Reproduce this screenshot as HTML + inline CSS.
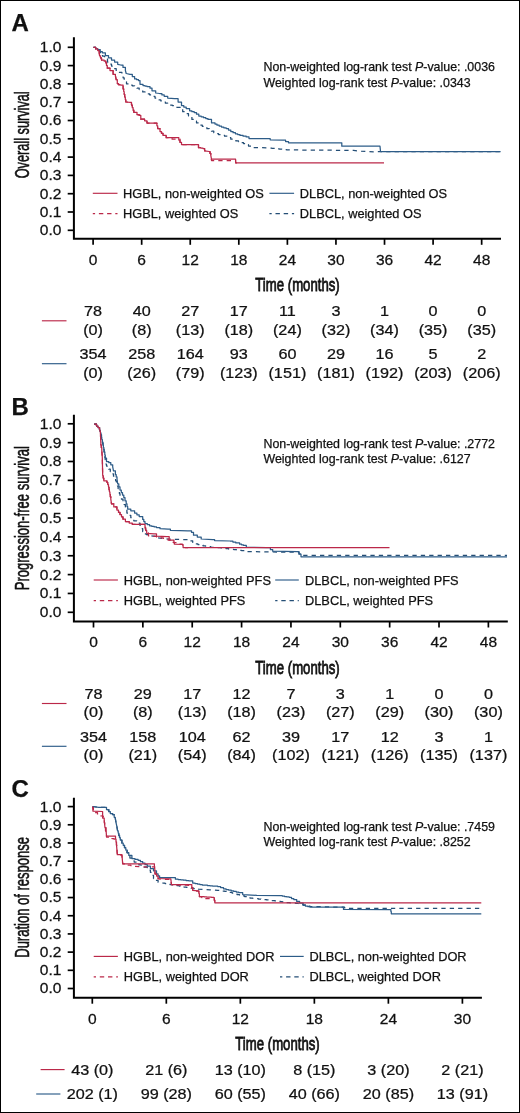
<!DOCTYPE html>
<html><head><meta charset="utf-8"><style>
html,body{margin:0;padding:0;background:#fff;}
svg{display:block;will-change:transform;}
text{font-family:"Liberation Sans",sans-serif;stroke:#111;stroke-width:0.25px;}
</style></head><body>
<svg width="520" height="1113" viewBox="0 0 520 1113">
<rect x="0" y="0" width="520" height="1113" fill="#fff"/>
<rect x="0.5" y="0.5" width="519" height="1112" fill="none" stroke="#000" stroke-width="1"/>
<path d="M73.9,37.2 V238.8 H501.0" fill="none" stroke="#000" stroke-width="2"/>
<line x1="67.7" y1="47.30" x2="73.9" y2="47.30" stroke="#000" stroke-width="1.7"/>
<text transform="translate(61.40,52.20) scale(1.050,1)" font-size="14.80" text-anchor="end" font-weight="normal" fill="#111" >1.0</text>
<line x1="67.7" y1="65.60" x2="73.9" y2="65.60" stroke="#000" stroke-width="1.7"/>
<text transform="translate(61.40,70.50) scale(1.050,1)" font-size="14.80" text-anchor="end" font-weight="normal" fill="#111" >0.9</text>
<line x1="67.7" y1="83.90" x2="73.9" y2="83.90" stroke="#000" stroke-width="1.7"/>
<text transform="translate(61.40,88.80) scale(1.050,1)" font-size="14.80" text-anchor="end" font-weight="normal" fill="#111" >0.8</text>
<line x1="67.7" y1="102.20" x2="73.9" y2="102.20" stroke="#000" stroke-width="1.7"/>
<text transform="translate(61.40,107.10) scale(1.050,1)" font-size="14.80" text-anchor="end" font-weight="normal" fill="#111" >0.7</text>
<line x1="67.7" y1="120.50" x2="73.9" y2="120.50" stroke="#000" stroke-width="1.7"/>
<text transform="translate(61.40,125.40) scale(1.050,1)" font-size="14.80" text-anchor="end" font-weight="normal" fill="#111" >0.6</text>
<line x1="67.7" y1="138.80" x2="73.9" y2="138.80" stroke="#000" stroke-width="1.7"/>
<text transform="translate(61.40,143.70) scale(1.050,1)" font-size="14.80" text-anchor="end" font-weight="normal" fill="#111" >0.5</text>
<line x1="67.7" y1="157.10" x2="73.9" y2="157.10" stroke="#000" stroke-width="1.7"/>
<text transform="translate(61.40,162.00) scale(1.050,1)" font-size="14.80" text-anchor="end" font-weight="normal" fill="#111" >0.4</text>
<line x1="67.7" y1="175.40" x2="73.9" y2="175.40" stroke="#000" stroke-width="1.7"/>
<text transform="translate(61.40,180.30) scale(1.050,1)" font-size="14.80" text-anchor="end" font-weight="normal" fill="#111" >0.3</text>
<line x1="67.7" y1="193.70" x2="73.9" y2="193.70" stroke="#000" stroke-width="1.7"/>
<text transform="translate(61.40,198.60) scale(1.050,1)" font-size="14.80" text-anchor="end" font-weight="normal" fill="#111" >0.2</text>
<line x1="67.7" y1="212.00" x2="73.9" y2="212.00" stroke="#000" stroke-width="1.7"/>
<text transform="translate(61.40,216.90) scale(1.050,1)" font-size="14.80" text-anchor="end" font-weight="normal" fill="#111" >0.1</text>
<line x1="67.7" y1="230.30" x2="73.9" y2="230.30" stroke="#000" stroke-width="1.7"/>
<text transform="translate(61.40,235.20) scale(1.050,1)" font-size="14.80" text-anchor="end" font-weight="normal" fill="#111" >0.0</text>
<line x1="93.10" y1="238.8" x2="93.10" y2="244.8" stroke="#000" stroke-width="1.7"/>
<text transform="translate(93.10,265.00) scale(1.050,1)" font-size="14.80" text-anchor="middle" font-weight="normal" fill="#111" >0</text>
<line x1="141.67" y1="238.8" x2="141.67" y2="244.8" stroke="#000" stroke-width="1.7"/>
<text transform="translate(141.67,265.00) scale(1.050,1)" font-size="14.80" text-anchor="middle" font-weight="normal" fill="#111" >6</text>
<line x1="190.24" y1="238.8" x2="190.24" y2="244.8" stroke="#000" stroke-width="1.7"/>
<text transform="translate(190.24,265.00) scale(1.050,1)" font-size="14.80" text-anchor="middle" font-weight="normal" fill="#111" >12</text>
<line x1="238.81" y1="238.8" x2="238.81" y2="244.8" stroke="#000" stroke-width="1.7"/>
<text transform="translate(238.81,265.00) scale(1.050,1)" font-size="14.80" text-anchor="middle" font-weight="normal" fill="#111" >18</text>
<line x1="287.38" y1="238.8" x2="287.38" y2="244.8" stroke="#000" stroke-width="1.7"/>
<text transform="translate(287.38,265.00) scale(1.050,1)" font-size="14.80" text-anchor="middle" font-weight="normal" fill="#111" >24</text>
<line x1="335.95" y1="238.8" x2="335.95" y2="244.8" stroke="#000" stroke-width="1.7"/>
<text transform="translate(335.95,265.00) scale(1.050,1)" font-size="14.80" text-anchor="middle" font-weight="normal" fill="#111" >30</text>
<line x1="384.52" y1="238.8" x2="384.52" y2="244.8" stroke="#000" stroke-width="1.7"/>
<text transform="translate(384.52,265.00) scale(1.050,1)" font-size="14.80" text-anchor="middle" font-weight="normal" fill="#111" >36</text>
<line x1="433.09" y1="238.8" x2="433.09" y2="244.8" stroke="#000" stroke-width="1.7"/>
<text transform="translate(433.09,265.00) scale(1.050,1)" font-size="14.80" text-anchor="middle" font-weight="normal" fill="#111" >42</text>
<line x1="481.66" y1="238.8" x2="481.66" y2="244.8" stroke="#000" stroke-width="1.7"/>
<text transform="translate(481.66,265.00) scale(1.050,1)" font-size="14.80" text-anchor="middle" font-weight="normal" fill="#111" >48</text>
<text x="11.50" y="30.70" font-size="24.00" text-anchor="start" font-weight="bold" fill="#111" >A</text>
<text transform="translate(28.50,134.80) rotate(-90) scale(0.640,1)" font-size="19.90" text-anchor="middle" fill="#111" style="stroke:#111;stroke-width:0.55px" >Overall survival</text>
<text transform="translate(255.30,291.00) scale(0.725,1)" font-size="18.20" text-anchor="start" font-weight="normal" fill="#111" style="stroke-width:0.8px">Time (months)</text>
<text x="263.50" y="71.20" font-size="12.40" text-anchor="start" font-weight="normal" fill="#111" >Non-weighted log-rank test <tspan font-style="italic">P</tspan>-value: .0036</text>
<text x="263.50" y="86.60" font-size="12.40" text-anchor="start" font-weight="normal" fill="#111" >Weighted log-rank test <tspan font-style="italic">P</tspan>-value: .0343</text>
<line x1="92.8" y1="193.3" x2="117.5" y2="193.3" stroke="#bb2849" stroke-width="1.15"/>
<line x1="92.8" y1="213.7" x2="117.5" y2="213.7" stroke="#bb2849" stroke-width="1.25" stroke-dasharray="4.4,3.8" stroke-dashoffset="2.1"/>
<line x1="269.4" y1="193.3" x2="294.1" y2="193.3" stroke="#2d5c88" stroke-width="1.15"/>
<line x1="269.4" y1="213.7" x2="294.1" y2="213.7" stroke="#244e76" stroke-width="1.25" stroke-dasharray="4.4,3.8" stroke-dashoffset="2.1"/>
<text x="123.00" y="198.20" font-size="12.80" text-anchor="start" font-weight="normal" fill="#111" >HGBL, non-weighted OS</text>
<text x="123.00" y="218.40" font-size="12.80" text-anchor="start" font-weight="normal" fill="#111" >HGBL, weighted OS</text>
<text x="299.80" y="198.20" font-size="12.80" text-anchor="start" font-weight="normal" fill="#111" >DLBCL, non-weighted OS</text>
<text x="299.80" y="218.40" font-size="12.80" text-anchor="start" font-weight="normal" fill="#111" >DLBCL, weighted OS</text>
<path d="M93.5,47.3 L95.6,47.3 L95.6,48.5 L97.7,48.5 L97.7,49.7 L100.0,49.7 L100.0,52.5 L102.5,52.5 L102.5,56.0 L104.6,56.0 L104.6,58.5 L107.5,58.5 L107.5,62.0 L109.5,62.0 L109.5,64.0 L111.5,64.0 L111.5,66.0 L113.8,66.0 L113.8,68.6 L116.2,68.6 L116.2,71.2 L118.5,71.2 L118.5,72.3 L121.9,72.3 L121.9,75.8 L123.1,75.8 L123.1,77.8 L124.2,77.8 L124.2,79.8 L125.3,79.8 L125.3,81.8 L126.5,81.8 L126.5,83.8 L130.0,83.8 L130.0,85.2 L132.3,85.2 L132.3,85.8 L134.6,85.8 L134.6,86.4 L136.9,86.4 L136.9,88.0 L139.2,88.0 L139.2,89.6 L142.7,89.6 L142.7,91.9 L145.0,91.9 L145.0,92.9 L147.3,92.9 L147.3,93.8 L149.6,93.8 L149.6,94.8 L152.3,94.8 L152.3,96.4 L155.0,96.4 L155.0,98.1 L158.5,98.1 L158.5,99.8 L160.8,99.8 L160.8,100.9 L163.1,100.9 L163.1,102.1 L165.4,102.1 L165.4,103.2 L167.7,103.2 L167.7,104.4 L170.0,104.4 L170.0,105.0 L172.3,105.0 L172.3,105.6 L174.6,105.6 L174.6,106.4 L176.9,106.4 L176.9,107.3 L180.4,107.3 L180.4,109.6 L182.7,109.6 L182.7,111.7 L185.0,111.7 L185.0,113.7 L188.5,113.7 L188.5,116.0 L191.9,116.0 L191.9,119.4 L194.2,119.4 L194.2,121.2 L196.5,121.2 L196.5,122.9 L200.0,122.9 L200.0,125.2 L202.3,125.2 L202.3,126.3 L204.6,126.3 L204.6,127.5 L206.9,127.5 L206.9,128.7 L209.2,128.7 L209.2,129.8 L211.5,129.8 L211.5,131.2 L213.8,131.2 L213.8,132.7 L216.2,132.7 L216.2,133.6 L218.5,133.6 L218.5,134.6 L221.6,134.6 L221.6,135.4 L224.6,135.4 L224.6,136.2 L227.7,136.2 L227.7,137.7 L230.8,137.7 L230.8,139.2 L233.4,139.2 L233.4,140.0 L235.9,140.0 L235.9,140.9 L238.5,140.9 L238.5,141.7 L241.0,141.7 L241.0,142.7 L243.5,142.7 L243.5,143.6 L246.0,143.6 L246.0,144.6 L248.5,144.6 L248.5,146.1 L251.0,146.1 L251.0,147.5 L257.7,147.5 L269.2,148.0 L271.8,148.0 L271.8,148.3 L274.4,148.3 L274.4,148.5 L277.0,148.5 L277.0,148.8 L279.4,148.8 L279.4,149.1 L281.8,149.1 L281.8,149.3 L284.1,149.3 L284.1,149.6 L286.5,149.6 L286.5,149.8 L300.0,150.0 L353.5,150.4 L359.8,151.2 L374.6,151.8 L380.5,151.6 L500.6,151.6" fill="none" stroke="#244e76" stroke-width="1.25" stroke-linejoin="round" stroke-dasharray="4.3,4.1"/>
<path d="M93.5,47.3 L95.6,47.3 L95.6,48.9 L97.7,48.9 L97.7,50.5 L99.2,50.5 L99.2,52.8 L99.6,55.8 L100.5,55.8 L100.5,57.9 L101.5,57.9 L101.5,60.0 L104.2,60.0 L104.2,61.2 L105.8,61.2 L105.8,62.8 L106.5,62.8 L106.5,65.5 L107.3,65.5 L107.3,68.2 L110.0,68.2 L110.0,70.5 L113.1,70.5 L113.1,74.3 L115.4,74.3 L115.4,75.8 L116.2,79.7 L117.3,79.7 L117.3,83.5 L118.5,83.5 L118.5,84.7 L121.5,84.7 L121.5,85.8 L123.1,85.8 L123.1,88.9 L123.7,88.9 L123.7,91.6 L124.2,91.6 L124.2,94.3 L124.7,94.3 L124.7,96.9 L125.3,96.9 L125.3,99.4 L125.8,99.4 L125.8,102.0 L130.4,102.4 L131.5,102.4 L131.5,105.0 L132.3,105.0 L132.3,107.7 L133.1,107.7 L133.1,110.0 L133.8,110.0 L133.8,112.3 L137.0,112.3 L137.0,114.6 L139.2,114.6 L139.2,115.4 L140.8,115.4 L140.8,119.2 L144.6,119.2 L144.6,120.8 L147.0,120.8 L147.0,123.0 L156.2,123.0 L156.9,123.0 L156.9,125.8 L157.7,125.8 L157.7,128.5 L160.0,128.5 L160.0,131.5 L161.5,131.5 L161.5,133.4 L163.0,133.4 L163.0,135.4 L166.2,135.4 L166.2,137.7 L169.1,137.7 L169.1,138.3 L172.0,138.3 L172.0,139.0 L177.7,139.0 L180.0,139.0 L180.0,142.3 L181.5,142.3 L181.5,144.6 L197.0,144.6 L198.5,144.6 L198.5,147.7 L200.8,147.7 L200.8,148.1 L203.0,148.1 L203.0,148.5 L204.6,148.5 L204.6,150.8 L209.2,151.5 L210.0,151.5 L210.0,153.4 L210.8,153.4 L210.8,155.4 L211.5,160.5 L234.6,160.5 L235.6,160.5 L235.6,162.8 L238.0,162.8" fill="none" stroke="#bb2849" stroke-width="1.25" stroke-linejoin="round" stroke-dasharray="4.3,4.1"/>
<path d="M93.5,47.3 L95.6,47.3 L95.6,48.5 L97.7,48.5 L97.7,49.7 L100.0,49.7 L100.0,51.6 L102.3,51.6 L102.3,52.8 L105.4,52.8 L105.4,55.5 L108.5,55.5 L108.5,57.8 L111.5,57.8 L111.5,60.0 L114.6,60.0 L114.6,62.0 L117.7,62.0 L117.7,64.3 L120.8,65.0 L123.0,65.0 L123.0,67.4 L125.4,67.4 L125.4,70.5 L126.2,73.5 L130.0,74.3 L132.3,74.3 L132.3,76.6 L134.6,76.6 L134.6,78.9 L136.6,78.9 L136.6,79.7 L138.5,79.7 L138.5,80.5 L140.0,80.5 L140.0,84.3 L143.0,84.3 L143.0,85.5 L145.0,85.5 L145.0,86.0 L147.0,86.0 L147.0,86.6 L150.0,86.6 L150.0,88.2 L152.0,88.2 L152.0,90.8 L155.7,90.8 L155.7,93.0 L159.6,93.5 L161.9,93.5 L161.9,94.9 L164.2,94.9 L164.2,96.3 L167.7,96.3 L167.7,98.1 L174.6,98.7 L178.1,98.7 L178.1,102.1 L181.5,102.1 L181.5,105.6 L183.8,105.6 L183.8,107.0 L186.2,107.0 L186.2,108.5 L189.6,108.5 L189.6,110.8 L191.9,110.8 L191.9,111.7 L194.2,111.7 L194.2,112.5 L196.5,112.5 L196.5,114.2 L198.8,114.2 L198.8,116.0 L201.2,116.0 L201.2,116.8 L203.5,116.8 L203.5,117.7 L205.8,117.7 L205.8,118.6 L208.0,118.6 L208.0,119.4 L211.5,119.4 L211.5,122.9 L215.0,122.9 L215.0,124.0 L217.0,124.0 L217.0,125.2 L219.2,125.2 L219.2,126.1 L221.5,126.1 L221.5,127.0 L223.8,127.0 L223.8,127.8 L226.2,127.8 L226.2,128.5 L228.5,128.5 L228.5,130.0 L230.8,130.0 L230.8,131.5 L233.1,131.5 L233.1,132.7 L235.4,132.7 L235.4,133.8 L237.7,133.8 L237.7,134.6 L240.0,134.6 L240.0,135.4 L243.1,135.4 L243.1,136.2 L246.2,136.2 L246.2,136.9 L249.0,136.9 L249.0,138.5 L267.3,138.5 L270.2,138.5 L270.2,139.8 L282.7,140.2 L285.6,140.2 L285.6,141.5 L288.5,141.5 L288.5,142.8 L340.8,142.8 L341.8,142.8 L341.8,146.2 L380.0,146.2 L380.5,151.5 L500.6,151.5" fill="none" stroke="#2d5c88" stroke-width="1.25" stroke-linejoin="round" />
<path d="M93.5,47.3 L95.6,47.3 L95.6,48.9 L97.7,48.9 L97.7,50.5 L99.2,50.5 L99.2,52.8 L99.6,55.8 L100.5,55.8 L100.5,57.9 L101.5,57.9 L101.5,60.0 L104.2,60.0 L104.2,61.2 L105.8,61.2 L105.8,62.8 L106.5,62.8 L106.5,65.5 L107.3,65.5 L107.3,68.2 L110.0,68.2 L110.0,70.5 L113.1,70.5 L113.1,74.3 L115.4,74.3 L115.4,75.8 L116.2,79.7 L117.3,79.7 L117.3,83.5 L118.5,83.5 L118.5,84.7 L121.5,85.1 L123.1,85.1 L123.1,88.9 L123.7,88.9 L123.7,91.6 L124.2,91.6 L124.2,94.3 L124.7,94.3 L124.7,96.9 L125.3,96.9 L125.3,99.4 L125.8,99.4 L125.8,102.0 L130.4,102.4 L131.5,102.4 L131.5,105.0 L132.3,105.0 L132.3,107.7 L133.1,107.7 L133.1,110.0 L133.8,110.0 L133.8,112.3 L137.0,112.3 L137.0,114.6 L139.2,114.6 L139.2,115.4 L140.8,115.4 L140.8,119.2 L144.6,119.2 L144.6,120.8 L147.0,120.8 L147.0,123.0 L156.2,123.0 L156.9,123.0 L156.9,125.8 L157.7,125.8 L157.7,128.5 L160.0,128.5 L160.0,131.5 L161.5,131.5 L161.5,133.4 L163.0,133.4 L163.0,135.4 L166.2,135.4 L166.2,137.7 L177.7,137.7 L178.8,137.7 L178.8,140.0 L180.0,140.0 L180.0,142.3 L181.5,142.3 L181.5,144.6 L197.0,144.6 L198.5,144.6 L198.5,147.7 L200.8,147.7 L200.8,148.1 L203.0,148.1 L203.0,148.5 L204.6,148.5 L204.6,150.8 L209.2,151.5 L210.0,151.5 L210.0,153.4 L210.8,153.4 L210.8,155.4 L211.5,159.2 L234.6,159.2 L235.6,159.2 L235.6,162.8 L384.0,162.8" fill="none" stroke="#bb2849" stroke-width="1.25" stroke-linejoin="round" />
<line x1="41.9" y1="320.8" x2="66.5" y2="320.8" stroke="#bb2849" stroke-width="1.15"/>
<line x1="41.9" y1="363.7" x2="66.5" y2="363.7" stroke="#2d5c88" stroke-width="1.15"/>
<text transform="translate(93.10,315.90) scale(1.110,1)" font-size="14.60" text-anchor="middle" font-weight="normal" fill="#111" >78</text>
<text transform="translate(141.67,315.90) scale(1.110,1)" font-size="14.60" text-anchor="middle" font-weight="normal" fill="#111" >40</text>
<text transform="translate(190.24,315.90) scale(1.110,1)" font-size="14.60" text-anchor="middle" font-weight="normal" fill="#111" >27</text>
<text transform="translate(238.81,315.90) scale(1.110,1)" font-size="14.60" text-anchor="middle" font-weight="normal" fill="#111" >17</text>
<text transform="translate(287.38,315.90) scale(1.110,1)" font-size="14.60" text-anchor="middle" font-weight="normal" fill="#111" >11</text>
<text transform="translate(335.95,315.90) scale(1.110,1)" font-size="14.60" text-anchor="middle" font-weight="normal" fill="#111" >3</text>
<text transform="translate(384.52,315.90) scale(1.110,1)" font-size="14.60" text-anchor="middle" font-weight="normal" fill="#111" >1</text>
<text transform="translate(433.09,315.90) scale(1.110,1)" font-size="14.60" text-anchor="middle" font-weight="normal" fill="#111" >0</text>
<text transform="translate(481.66,315.90) scale(1.110,1)" font-size="14.60" text-anchor="middle" font-weight="normal" fill="#111" >0</text>
<text transform="translate(93.10,334.60) scale(1.110,1)" font-size="14.60" text-anchor="middle" font-weight="normal" fill="#111" >(0)</text>
<text transform="translate(141.67,334.60) scale(1.110,1)" font-size="14.60" text-anchor="middle" font-weight="normal" fill="#111" >(8)</text>
<text transform="translate(190.24,334.60) scale(1.110,1)" font-size="14.60" text-anchor="middle" font-weight="normal" fill="#111" >(13)</text>
<text transform="translate(238.81,334.60) scale(1.110,1)" font-size="14.60" text-anchor="middle" font-weight="normal" fill="#111" >(18)</text>
<text transform="translate(287.38,334.60) scale(1.110,1)" font-size="14.60" text-anchor="middle" font-weight="normal" fill="#111" >(24)</text>
<text transform="translate(335.95,334.60) scale(1.110,1)" font-size="14.60" text-anchor="middle" font-weight="normal" fill="#111" >(32)</text>
<text transform="translate(384.52,334.60) scale(1.110,1)" font-size="14.60" text-anchor="middle" font-weight="normal" fill="#111" >(34)</text>
<text transform="translate(433.09,334.60) scale(1.110,1)" font-size="14.60" text-anchor="middle" font-weight="normal" fill="#111" >(35)</text>
<text transform="translate(481.66,334.60) scale(1.110,1)" font-size="14.60" text-anchor="middle" font-weight="normal" fill="#111" >(35)</text>
<text transform="translate(93.10,358.80) scale(1.110,1)" font-size="14.60" text-anchor="middle" font-weight="normal" fill="#111" >354</text>
<text transform="translate(141.67,358.80) scale(1.110,1)" font-size="14.60" text-anchor="middle" font-weight="normal" fill="#111" >258</text>
<text transform="translate(190.24,358.80) scale(1.110,1)" font-size="14.60" text-anchor="middle" font-weight="normal" fill="#111" >164</text>
<text transform="translate(238.81,358.80) scale(1.110,1)" font-size="14.60" text-anchor="middle" font-weight="normal" fill="#111" >93</text>
<text transform="translate(287.38,358.80) scale(1.110,1)" font-size="14.60" text-anchor="middle" font-weight="normal" fill="#111" >60</text>
<text transform="translate(335.95,358.80) scale(1.110,1)" font-size="14.60" text-anchor="middle" font-weight="normal" fill="#111" >29</text>
<text transform="translate(384.52,358.80) scale(1.110,1)" font-size="14.60" text-anchor="middle" font-weight="normal" fill="#111" >16</text>
<text transform="translate(433.09,358.80) scale(1.110,1)" font-size="14.60" text-anchor="middle" font-weight="normal" fill="#111" >5</text>
<text transform="translate(481.66,358.80) scale(1.110,1)" font-size="14.60" text-anchor="middle" font-weight="normal" fill="#111" >2</text>
<text transform="translate(93.10,377.70) scale(1.110,1)" font-size="14.60" text-anchor="middle" font-weight="normal" fill="#111" >(0)</text>
<text transform="translate(141.67,377.70) scale(1.110,1)" font-size="14.60" text-anchor="middle" font-weight="normal" fill="#111" >(26)</text>
<text transform="translate(190.24,377.70) scale(1.110,1)" font-size="14.60" text-anchor="middle" font-weight="normal" fill="#111" >(79)</text>
<text transform="translate(238.81,377.70) scale(1.110,1)" font-size="14.60" text-anchor="middle" font-weight="normal" fill="#111" >(123)</text>
<text transform="translate(287.38,377.70) scale(1.110,1)" font-size="14.60" text-anchor="middle" font-weight="normal" fill="#111" >(151)</text>
<text transform="translate(335.95,377.70) scale(1.110,1)" font-size="14.60" text-anchor="middle" font-weight="normal" fill="#111" >(181)</text>
<text transform="translate(384.52,377.70) scale(1.110,1)" font-size="14.60" text-anchor="middle" font-weight="normal" fill="#111" >(192)</text>
<text transform="translate(433.09,377.70) scale(1.110,1)" font-size="14.60" text-anchor="middle" font-weight="normal" fill="#111" >(203)</text>
<text transform="translate(481.66,377.70) scale(1.110,1)" font-size="14.60" text-anchor="middle" font-weight="normal" fill="#111" >(206)</text>
<path d="M73.9,414.8 V621.5 H507.8" fill="none" stroke="#000" stroke-width="2"/>
<line x1="67.7" y1="423.80" x2="73.9" y2="423.80" stroke="#000" stroke-width="1.7"/>
<text transform="translate(61.40,428.70) scale(1.050,1)" font-size="14.80" text-anchor="end" font-weight="normal" fill="#111" >1.0</text>
<line x1="67.7" y1="442.65" x2="73.9" y2="442.65" stroke="#000" stroke-width="1.7"/>
<text transform="translate(61.40,447.55) scale(1.050,1)" font-size="14.80" text-anchor="end" font-weight="normal" fill="#111" >0.9</text>
<line x1="67.7" y1="461.50" x2="73.9" y2="461.50" stroke="#000" stroke-width="1.7"/>
<text transform="translate(61.40,466.40) scale(1.050,1)" font-size="14.80" text-anchor="end" font-weight="normal" fill="#111" >0.8</text>
<line x1="67.7" y1="480.35" x2="73.9" y2="480.35" stroke="#000" stroke-width="1.7"/>
<text transform="translate(61.40,485.25) scale(1.050,1)" font-size="14.80" text-anchor="end" font-weight="normal" fill="#111" >0.7</text>
<line x1="67.7" y1="499.20" x2="73.9" y2="499.20" stroke="#000" stroke-width="1.7"/>
<text transform="translate(61.40,504.10) scale(1.050,1)" font-size="14.80" text-anchor="end" font-weight="normal" fill="#111" >0.6</text>
<line x1="67.7" y1="518.05" x2="73.9" y2="518.05" stroke="#000" stroke-width="1.7"/>
<text transform="translate(61.40,522.95) scale(1.050,1)" font-size="14.80" text-anchor="end" font-weight="normal" fill="#111" >0.5</text>
<line x1="67.7" y1="536.90" x2="73.9" y2="536.90" stroke="#000" stroke-width="1.7"/>
<text transform="translate(61.40,541.80) scale(1.050,1)" font-size="14.80" text-anchor="end" font-weight="normal" fill="#111" >0.4</text>
<line x1="67.7" y1="555.75" x2="73.9" y2="555.75" stroke="#000" stroke-width="1.7"/>
<text transform="translate(61.40,560.65) scale(1.050,1)" font-size="14.80" text-anchor="end" font-weight="normal" fill="#111" >0.3</text>
<line x1="67.7" y1="574.60" x2="73.9" y2="574.60" stroke="#000" stroke-width="1.7"/>
<text transform="translate(61.40,579.50) scale(1.050,1)" font-size="14.80" text-anchor="end" font-weight="normal" fill="#111" >0.2</text>
<line x1="67.7" y1="593.45" x2="73.9" y2="593.45" stroke="#000" stroke-width="1.7"/>
<text transform="translate(61.40,598.35) scale(1.050,1)" font-size="14.80" text-anchor="end" font-weight="normal" fill="#111" >0.1</text>
<line x1="67.7" y1="612.30" x2="73.9" y2="612.30" stroke="#000" stroke-width="1.7"/>
<text transform="translate(61.40,617.20) scale(1.050,1)" font-size="14.80" text-anchor="end" font-weight="normal" fill="#111" >0.0</text>
<line x1="93.50" y1="621.5" x2="93.50" y2="627.5" stroke="#000" stroke-width="1.7"/>
<text transform="translate(93.50,647.10) scale(1.050,1)" font-size="14.80" text-anchor="middle" font-weight="normal" fill="#111" >0</text>
<line x1="142.86" y1="621.5" x2="142.86" y2="627.5" stroke="#000" stroke-width="1.7"/>
<text transform="translate(142.86,647.10) scale(1.050,1)" font-size="14.80" text-anchor="middle" font-weight="normal" fill="#111" >6</text>
<line x1="192.22" y1="621.5" x2="192.22" y2="627.5" stroke="#000" stroke-width="1.7"/>
<text transform="translate(192.22,647.10) scale(1.050,1)" font-size="14.80" text-anchor="middle" font-weight="normal" fill="#111" >12</text>
<line x1="241.58" y1="621.5" x2="241.58" y2="627.5" stroke="#000" stroke-width="1.7"/>
<text transform="translate(241.58,647.10) scale(1.050,1)" font-size="14.80" text-anchor="middle" font-weight="normal" fill="#111" >18</text>
<line x1="290.94" y1="621.5" x2="290.94" y2="627.5" stroke="#000" stroke-width="1.7"/>
<text transform="translate(290.94,647.10) scale(1.050,1)" font-size="14.80" text-anchor="middle" font-weight="normal" fill="#111" >24</text>
<line x1="340.30" y1="621.5" x2="340.30" y2="627.5" stroke="#000" stroke-width="1.7"/>
<text transform="translate(340.30,647.10) scale(1.050,1)" font-size="14.80" text-anchor="middle" font-weight="normal" fill="#111" >30</text>
<line x1="389.66" y1="621.5" x2="389.66" y2="627.5" stroke="#000" stroke-width="1.7"/>
<text transform="translate(389.66,647.10) scale(1.050,1)" font-size="14.80" text-anchor="middle" font-weight="normal" fill="#111" >36</text>
<line x1="439.02" y1="621.5" x2="439.02" y2="627.5" stroke="#000" stroke-width="1.7"/>
<text transform="translate(439.02,647.10) scale(1.050,1)" font-size="14.80" text-anchor="middle" font-weight="normal" fill="#111" >42</text>
<line x1="488.38" y1="621.5" x2="488.38" y2="627.5" stroke="#000" stroke-width="1.7"/>
<text transform="translate(488.38,647.10) scale(1.050,1)" font-size="14.80" text-anchor="middle" font-weight="normal" fill="#111" >48</text>
<text x="11.50" y="414.60" font-size="24.00" text-anchor="start" font-weight="bold" fill="#111" >B</text>
<text transform="translate(28.50,518.20) rotate(-90) scale(0.655,1)" font-size="19.90" text-anchor="middle" fill="#111" style="stroke:#111;stroke-width:0.55px" >Progression-free survival</text>
<text transform="translate(255.30,673.80) scale(0.725,1)" font-size="18.20" text-anchor="start" font-weight="normal" fill="#111" style="stroke-width:0.8px">Time (months)</text>
<text x="263.50" y="448.20" font-size="12.40" text-anchor="start" font-weight="normal" fill="#111" >Non-weighted log-rank test <tspan font-style="italic">P</tspan>-value: .2772</text>
<text x="263.50" y="463.40" font-size="12.40" text-anchor="start" font-weight="normal" fill="#111" >Weighted log-rank test <tspan font-style="italic">P</tspan>-value: .6127</text>
<line x1="93.7" y1="580.0" x2="117.9" y2="580.0" stroke="#bb2849" stroke-width="1.15"/>
<line x1="93.7" y1="600.5" x2="117.9" y2="600.5" stroke="#bb2849" stroke-width="1.25" stroke-dasharray="4.4,3.8" stroke-dashoffset="2.1"/>
<line x1="275.2" y1="580.0" x2="298.8" y2="580.0" stroke="#2d5c88" stroke-width="1.15"/>
<line x1="275.2" y1="600.5" x2="298.8" y2="600.5" stroke="#244e76" stroke-width="1.25" stroke-dasharray="4.4,3.8" stroke-dashoffset="2.1"/>
<text x="123.70" y="585.20" font-size="12.80" text-anchor="start" font-weight="normal" fill="#111" >HGBL, non-weighted PFS</text>
<text x="123.70" y="605.40" font-size="12.80" text-anchor="start" font-weight="normal" fill="#111" >HGBL, weighted PFS</text>
<text x="305.00" y="585.20" font-size="12.80" text-anchor="start" font-weight="normal" fill="#111" >DLBCL, non-weighted PFS</text>
<text x="305.00" y="605.40" font-size="12.80" text-anchor="start" font-weight="normal" fill="#111" >DLBCL, weighted PFS</text>
<path d="M94.2,424.2 L96.5,424.2 L96.5,426.0 L98.0,426.0 L98.0,427.6 L99.5,427.6 L99.5,429.5 L100.3,431.5 L100.9,431.5 L100.9,434.8 L101.5,434.8 L101.5,438.0 L102.0,438.0 L102.0,440.7 L102.5,440.7 L102.5,443.3 L103.0,443.3 L103.0,446.0 L103.5,446.0 L103.5,449.0 L104.0,449.0 L104.0,452.0 L104.5,452.0 L104.5,455.0 L104.8,455.0 L104.8,457.3 L105.2,457.3 L105.2,459.7 L105.5,459.7 L105.5,462.0 L106.0,462.0 L106.0,464.0 L106.5,464.0 L106.5,466.0 L108.8,466.0 L108.8,469.2 L110.3,469.2 L110.3,471.5 L111.9,471.5 L111.9,473.8 L113.5,473.8 L113.5,476.2 L114.5,476.2 L114.5,478.5 L115.6,478.5 L115.6,480.8 L116.5,480.8 L116.5,483.4 L117.5,483.4 L117.5,486.0 L118.1,486.0 L118.1,488.6 L118.8,488.6 L118.8,491.1 L119.4,491.1 L119.4,493.6 L120.0,493.6 L120.0,496.2 L121.5,496.2 L121.5,499.2 L123.0,499.2 L123.0,502.3 L124.2,502.3 L124.2,504.6 L125.4,504.6 L125.4,507.0 L126.2,507.0 L126.2,510.0 L126.9,510.0 L126.9,513.0 L128.9,513.0 L128.9,515.4 L130.8,515.4 L130.8,517.7 L133.8,517.7 L133.8,520.8 L136.9,520.8 L136.9,523.1 L140.0,523.1 L140.0,525.4 L141.3,525.4 L141.3,528.5 L142.7,528.5 L142.7,531.5 L144.4,531.5 L144.4,533.8 L146.4,533.8 L146.4,534.7 L148.5,534.7 L148.5,535.6 L153.0,536.2 L155.3,536.2 L155.3,537.0 L157.7,537.0 L157.7,537.9 L162.3,538.5 L166.9,539.0 L173.8,539.4 L185.4,539.6 L187.7,539.6 L187.7,540.2 L190.0,540.2 L190.0,540.8 L192.7,540.8 L192.7,542.3 L195.4,542.3 L195.4,543.8 L197.9,543.8 L197.9,544.5 L200.5,544.5 L200.5,545.1 L203.0,545.1 L203.0,545.8 L205.6,545.8 L205.6,546.2 L208.2,546.2 L208.2,546.7 L210.8,546.7 L210.8,547.1 L218.5,547.7 L221.1,547.7 L221.1,548.0 L223.6,548.0 L223.6,548.4 L226.2,548.4 L226.2,548.7 L228.7,548.7 L228.7,549.0 L231.3,549.0 L231.3,549.3 L233.8,549.3 L233.8,549.6 L236.4,549.6 L236.4,549.9 L238.9,549.9 L238.9,550.3 L241.5,550.3 L241.5,550.6 L244.4,550.6 L244.4,551.0 L247.3,551.0 L247.3,551.5 L266.5,551.9 L297.0,552.2 L299.0,552.2 L299.0,553.8 L301.0,553.8 L301.0,555.3 L507.0,555.3" fill="none" stroke="#244e76" stroke-width="1.25" stroke-linejoin="round" stroke-dasharray="4.3,4.1"/>
<path d="M94.2,424.2 L96.5,424.2 L96.5,426.0 L98.0,426.0 L98.0,427.6 L99.5,427.6 L99.5,429.5 L100.3,431.5 L100.6,437.2 L100.9,445.0 L101.3,445.0 L101.3,447.6 L101.8,447.6 L101.8,450.3 L102.3,457.7 L102.7,475.4 L103.2,475.4 L103.2,478.1 L103.8,478.1 L103.8,480.8 L106.9,480.8 L106.9,482.3 L107.7,482.3 L107.7,484.6 L108.5,484.6 L108.5,486.9 L109.0,486.9 L109.0,489.4 L109.4,489.4 L109.4,491.8 L109.9,491.8 L109.9,494.3 L110.3,494.3 L110.3,496.7 L110.8,496.7 L110.8,499.2 L111.5,503.8 L113.8,503.8 L113.8,506.9 L116.9,506.9 L116.9,510.0 L118.5,510.0 L118.5,512.3 L120.0,512.3 L120.0,514.6 L121.5,514.6 L121.5,516.9 L123.0,516.9 L123.0,519.2 L125.4,519.2 L125.4,521.5 L129.2,521.5 L129.2,523.0 L132.3,523.0 L132.3,524.3 L143.8,524.3 L144.7,524.3 L144.7,527.1 L145.5,527.1 L145.5,530.0 L146.9,530.0 L146.9,532.9 L148.4,532.9 L148.4,535.8 L154.2,536.3 L156.5,536.3 L156.5,536.9 L158.8,536.9 L158.8,537.5 L161.1,537.5 L161.1,537.9 L163.4,537.9 L163.4,538.3 L165.7,538.3 L165.7,538.7 L168.0,538.7 L168.0,540.1 L170.3,540.1 L170.3,541.5 L173.2,541.5 L173.2,542.6 L176.0,542.6 L176.0,543.8 L182.4,544.2 L183.0,547.5 L188.0,547.5" fill="none" stroke="#bb2849" stroke-width="1.25" stroke-linejoin="round" stroke-dasharray="4.3,4.1"/>
<path d="M94.2,424.2 L96.5,424.2 L96.5,426.0 L98.0,426.0 L98.0,427.6 L99.5,427.6 L99.5,429.5 L100.3,431.5 L101.0,433.4 L101.8,439.5 L102.4,439.5 L102.4,442.2 L103.0,442.2 L103.0,445.0 L103.4,445.0 L103.4,447.3 L103.8,447.3 L103.8,449.5 L104.2,449.5 L104.2,451.8 L104.8,451.8 L104.8,454.9 L105.3,454.9 L105.3,458.0 L106.5,458.0 L106.5,461.5 L108.8,461.5 L108.8,462.7 L110.8,462.7 L110.8,464.8 L112.7,464.8 L112.7,466.9 L113.5,470.8 L115.4,470.8 L115.4,474.6 L116.2,474.6 L116.2,476.9 L117.0,476.9 L117.0,479.2 L117.7,483.8 L118.8,483.8 L118.8,486.9 L120.0,486.9 L120.0,490.0 L121.3,490.0 L121.3,492.6 L122.5,492.6 L122.5,495.1 L123.8,495.1 L123.8,497.7 L125.0,497.7 L125.0,500.8 L126.2,500.8 L126.2,503.8 L127.0,503.8 L127.0,506.5 L127.7,506.5 L127.7,509.2 L130.8,509.2 L130.8,510.8 L134.6,510.8 L134.6,513.1 L136.9,513.1 L136.9,514.8 L139.2,514.8 L139.2,516.5 L142.7,516.5 L142.7,519.4 L143.8,519.4 L143.8,521.5 L145.0,521.5 L145.0,523.5 L147.3,523.5 L147.3,524.6 L149.6,524.6 L149.6,525.8 L151.9,525.8 L151.9,526.4 L154.2,526.4 L154.2,526.9 L156.5,526.9 L156.5,527.5 L160.0,527.5 L160.0,528.7 L168.1,529.2 L170.4,529.2 L170.4,530.4 L180.0,530.6 L187.7,530.8 L191.5,530.8 L191.5,532.3 L193.5,532.3 L193.5,535.2 L197.3,535.2 L197.3,537.1 L201.2,537.1 L201.2,539.0 L212.7,539.6 L214.6,539.6 L214.6,540.6 L230.0,541.0 L232.9,541.0 L232.9,542.0 L235.8,542.0 L235.8,542.9 L239.6,542.9 L239.6,544.2 L241.6,544.2 L241.6,544.8 L243.5,544.8 L243.5,545.4 L246.3,545.4 L246.3,547.1 L266.5,547.7 L270.4,547.7 L270.4,549.6 L272.7,549.6 L272.7,551.2 L297.0,551.7 L299.0,551.7 L299.0,554.2 L301.0,554.2 L301.0,556.8 L507.0,556.8" fill="none" stroke="#2d5c88" stroke-width="1.25" stroke-linejoin="round" />
<path d="M94.2,424.2 L96.5,424.2 L96.5,426.0 L98.0,426.0 L98.0,427.6 L99.5,427.6 L99.5,429.5 L100.3,431.5 L100.6,437.2 L100.9,445.0 L101.3,445.0 L101.3,447.6 L101.8,447.6 L101.8,450.3 L102.3,457.7 L102.7,475.4 L103.2,475.4 L103.2,478.1 L103.8,478.1 L103.8,480.8 L106.9,480.8 L106.9,482.3 L107.7,482.3 L107.7,484.6 L108.5,484.6 L108.5,486.9 L109.0,486.9 L109.0,489.4 L109.4,489.4 L109.4,491.8 L109.9,491.8 L109.9,494.3 L110.3,494.3 L110.3,496.7 L110.8,496.7 L110.8,499.2 L111.5,503.8 L113.8,503.8 L113.8,506.9 L116.9,506.9 L116.9,510.0 L118.5,510.0 L118.5,512.3 L120.0,512.3 L120.0,514.6 L121.5,514.6 L121.5,516.9 L123.0,516.9 L123.0,519.2 L125.4,519.2 L125.4,521.5 L129.2,521.5 L129.2,523.0 L132.3,523.0 L132.3,524.3 L143.8,524.3 L145.0,524.3 L145.0,528.0 L145.8,528.0 L145.8,530.6 L146.7,530.6 L146.7,533.3 L154.2,533.8 L156.5,533.8 L156.5,536.2 L166.9,536.7 L169.2,536.7 L169.2,540.0 L173.3,540.0 L173.9,540.0 L173.9,542.1 L174.4,542.1 L174.4,544.2 L182.0,544.5 L183.1,544.5 L183.1,547.5 L389.5,547.5" fill="none" stroke="#bb2849" stroke-width="1.25" stroke-linejoin="round" />
<line x1="41.9" y1="703.5" x2="66.5" y2="703.5" stroke="#bb2849" stroke-width="1.15"/>
<line x1="41.9" y1="746.3" x2="66.5" y2="746.3" stroke="#2d5c88" stroke-width="1.15"/>
<text transform="translate(93.50,698.70) scale(1.110,1)" font-size="14.60" text-anchor="middle" font-weight="normal" fill="#111" >78</text>
<text transform="translate(142.86,698.70) scale(1.110,1)" font-size="14.60" text-anchor="middle" font-weight="normal" fill="#111" >29</text>
<text transform="translate(192.22,698.70) scale(1.110,1)" font-size="14.60" text-anchor="middle" font-weight="normal" fill="#111" >17</text>
<text transform="translate(241.58,698.70) scale(1.110,1)" font-size="14.60" text-anchor="middle" font-weight="normal" fill="#111" >12</text>
<text transform="translate(290.94,698.70) scale(1.110,1)" font-size="14.60" text-anchor="middle" font-weight="normal" fill="#111" >7</text>
<text transform="translate(340.30,698.70) scale(1.110,1)" font-size="14.60" text-anchor="middle" font-weight="normal" fill="#111" >3</text>
<text transform="translate(389.66,698.70) scale(1.110,1)" font-size="14.60" text-anchor="middle" font-weight="normal" fill="#111" >1</text>
<text transform="translate(439.02,698.70) scale(1.110,1)" font-size="14.60" text-anchor="middle" font-weight="normal" fill="#111" >0</text>
<text transform="translate(488.38,698.70) scale(1.110,1)" font-size="14.60" text-anchor="middle" font-weight="normal" fill="#111" >0</text>
<text transform="translate(93.50,717.00) scale(1.110,1)" font-size="14.60" text-anchor="middle" font-weight="normal" fill="#111" >(0)</text>
<text transform="translate(142.86,717.00) scale(1.110,1)" font-size="14.60" text-anchor="middle" font-weight="normal" fill="#111" >(8)</text>
<text transform="translate(192.22,717.00) scale(1.110,1)" font-size="14.60" text-anchor="middle" font-weight="normal" fill="#111" >(13)</text>
<text transform="translate(241.58,717.00) scale(1.110,1)" font-size="14.60" text-anchor="middle" font-weight="normal" fill="#111" >(18)</text>
<text transform="translate(290.94,717.00) scale(1.110,1)" font-size="14.60" text-anchor="middle" font-weight="normal" fill="#111" >(23)</text>
<text transform="translate(340.30,717.00) scale(1.110,1)" font-size="14.60" text-anchor="middle" font-weight="normal" fill="#111" >(27)</text>
<text transform="translate(389.66,717.00) scale(1.110,1)" font-size="14.60" text-anchor="middle" font-weight="normal" fill="#111" >(29)</text>
<text transform="translate(439.02,717.00) scale(1.110,1)" font-size="14.60" text-anchor="middle" font-weight="normal" fill="#111" >(30)</text>
<text transform="translate(488.38,717.00) scale(1.110,1)" font-size="14.60" text-anchor="middle" font-weight="normal" fill="#111" >(30)</text>
<text transform="translate(93.50,741.50) scale(1.110,1)" font-size="14.60" text-anchor="middle" font-weight="normal" fill="#111" >354</text>
<text transform="translate(142.86,741.50) scale(1.110,1)" font-size="14.60" text-anchor="middle" font-weight="normal" fill="#111" >158</text>
<text transform="translate(192.22,741.50) scale(1.110,1)" font-size="14.60" text-anchor="middle" font-weight="normal" fill="#111" >104</text>
<text transform="translate(241.58,741.50) scale(1.110,1)" font-size="14.60" text-anchor="middle" font-weight="normal" fill="#111" >62</text>
<text transform="translate(290.94,741.50) scale(1.110,1)" font-size="14.60" text-anchor="middle" font-weight="normal" fill="#111" >39</text>
<text transform="translate(340.30,741.50) scale(1.110,1)" font-size="14.60" text-anchor="middle" font-weight="normal" fill="#111" >17</text>
<text transform="translate(389.66,741.50) scale(1.110,1)" font-size="14.60" text-anchor="middle" font-weight="normal" fill="#111" >12</text>
<text transform="translate(439.02,741.50) scale(1.110,1)" font-size="14.60" text-anchor="middle" font-weight="normal" fill="#111" >3</text>
<text transform="translate(488.38,741.50) scale(1.110,1)" font-size="14.60" text-anchor="middle" font-weight="normal" fill="#111" >1</text>
<text transform="translate(93.50,759.90) scale(1.110,1)" font-size="14.60" text-anchor="middle" font-weight="normal" fill="#111" >(0)</text>
<text transform="translate(142.86,759.90) scale(1.110,1)" font-size="14.60" text-anchor="middle" font-weight="normal" fill="#111" >(21)</text>
<text transform="translate(192.22,759.90) scale(1.110,1)" font-size="14.60" text-anchor="middle" font-weight="normal" fill="#111" >(54)</text>
<text transform="translate(241.58,759.90) scale(1.110,1)" font-size="14.60" text-anchor="middle" font-weight="normal" fill="#111" >(84)</text>
<text transform="translate(290.94,759.90) scale(1.110,1)" font-size="14.60" text-anchor="middle" font-weight="normal" fill="#111" >(102)</text>
<text transform="translate(340.30,759.90) scale(1.110,1)" font-size="14.60" text-anchor="middle" font-weight="normal" fill="#111" >(121)</text>
<text transform="translate(389.66,759.90) scale(1.110,1)" font-size="14.60" text-anchor="middle" font-weight="normal" fill="#111" >(126)</text>
<text transform="translate(439.02,759.90) scale(1.110,1)" font-size="14.60" text-anchor="middle" font-weight="normal" fill="#111" >(135)</text>
<text transform="translate(488.38,759.90) scale(1.110,1)" font-size="14.60" text-anchor="middle" font-weight="normal" fill="#111" >(137)</text>
<path d="M73.9,797.7 V997.7 H481.9" fill="none" stroke="#000" stroke-width="2"/>
<line x1="67.7" y1="806.60" x2="73.9" y2="806.60" stroke="#000" stroke-width="1.7"/>
<text transform="translate(61.40,811.50) scale(1.050,1)" font-size="14.80" text-anchor="end" font-weight="normal" fill="#111" >1.0</text>
<line x1="67.7" y1="824.79" x2="73.9" y2="824.79" stroke="#000" stroke-width="1.7"/>
<text transform="translate(61.40,829.69) scale(1.050,1)" font-size="14.80" text-anchor="end" font-weight="normal" fill="#111" >0.9</text>
<line x1="67.7" y1="842.98" x2="73.9" y2="842.98" stroke="#000" stroke-width="1.7"/>
<text transform="translate(61.40,847.88) scale(1.050,1)" font-size="14.80" text-anchor="end" font-weight="normal" fill="#111" >0.8</text>
<line x1="67.7" y1="861.17" x2="73.9" y2="861.17" stroke="#000" stroke-width="1.7"/>
<text transform="translate(61.40,866.07) scale(1.050,1)" font-size="14.80" text-anchor="end" font-weight="normal" fill="#111" >0.7</text>
<line x1="67.7" y1="879.36" x2="73.9" y2="879.36" stroke="#000" stroke-width="1.7"/>
<text transform="translate(61.40,884.26) scale(1.050,1)" font-size="14.80" text-anchor="end" font-weight="normal" fill="#111" >0.6</text>
<line x1="67.7" y1="897.55" x2="73.9" y2="897.55" stroke="#000" stroke-width="1.7"/>
<text transform="translate(61.40,902.45) scale(1.050,1)" font-size="14.80" text-anchor="end" font-weight="normal" fill="#111" >0.5</text>
<line x1="67.7" y1="915.74" x2="73.9" y2="915.74" stroke="#000" stroke-width="1.7"/>
<text transform="translate(61.40,920.64) scale(1.050,1)" font-size="14.80" text-anchor="end" font-weight="normal" fill="#111" >0.4</text>
<line x1="67.7" y1="933.93" x2="73.9" y2="933.93" stroke="#000" stroke-width="1.7"/>
<text transform="translate(61.40,938.83) scale(1.050,1)" font-size="14.80" text-anchor="end" font-weight="normal" fill="#111" >0.3</text>
<line x1="67.7" y1="952.12" x2="73.9" y2="952.12" stroke="#000" stroke-width="1.7"/>
<text transform="translate(61.40,957.02) scale(1.050,1)" font-size="14.80" text-anchor="end" font-weight="normal" fill="#111" >0.2</text>
<line x1="67.7" y1="970.31" x2="73.9" y2="970.31" stroke="#000" stroke-width="1.7"/>
<text transform="translate(61.40,975.21) scale(1.050,1)" font-size="14.80" text-anchor="end" font-weight="normal" fill="#111" >0.1</text>
<line x1="67.7" y1="988.50" x2="73.9" y2="988.50" stroke="#000" stroke-width="1.7"/>
<text transform="translate(61.40,993.40) scale(1.050,1)" font-size="14.80" text-anchor="end" font-weight="normal" fill="#111" >0.0</text>
<line x1="92.30" y1="997.7" x2="92.30" y2="1003.7" stroke="#000" stroke-width="1.7"/>
<text transform="translate(92.30,1023.70) scale(1.050,1)" font-size="14.80" text-anchor="middle" font-weight="normal" fill="#111" >0</text>
<line x1="166.32" y1="997.7" x2="166.32" y2="1003.7" stroke="#000" stroke-width="1.7"/>
<text transform="translate(166.32,1023.70) scale(1.050,1)" font-size="14.80" text-anchor="middle" font-weight="normal" fill="#111" >6</text>
<line x1="240.34" y1="997.7" x2="240.34" y2="1003.7" stroke="#000" stroke-width="1.7"/>
<text transform="translate(240.34,1023.70) scale(1.050,1)" font-size="14.80" text-anchor="middle" font-weight="normal" fill="#111" >12</text>
<line x1="314.36" y1="997.7" x2="314.36" y2="1003.7" stroke="#000" stroke-width="1.7"/>
<text transform="translate(314.36,1023.70) scale(1.050,1)" font-size="14.80" text-anchor="middle" font-weight="normal" fill="#111" >18</text>
<line x1="388.38" y1="997.7" x2="388.38" y2="1003.7" stroke="#000" stroke-width="1.7"/>
<text transform="translate(388.38,1023.70) scale(1.050,1)" font-size="14.80" text-anchor="middle" font-weight="normal" fill="#111" >24</text>
<line x1="462.40" y1="997.7" x2="462.40" y2="1003.7" stroke="#000" stroke-width="1.7"/>
<text transform="translate(462.40,1023.70) scale(1.050,1)" font-size="14.80" text-anchor="middle" font-weight="normal" fill="#111" >30</text>
<text x="11.50" y="797.00" font-size="24.00" text-anchor="start" font-weight="bold" fill="#111" >C</text>
<text transform="translate(28.50,897.40) rotate(-90) scale(0.654,1)" font-size="19.90" text-anchor="middle" fill="#111" style="stroke:#111;stroke-width:0.55px" >Duration of response</text>
<text transform="translate(235.30,1050.00) scale(0.725,1)" font-size="18.20" text-anchor="start" font-weight="normal" fill="#111" style="stroke-width:0.8px">Time (months)</text>
<text x="263.50" y="830.80" font-size="12.40" text-anchor="start" font-weight="normal" fill="#111" >Non-weighted log-rank test <tspan font-style="italic">P</tspan>-value: .7459</text>
<text x="263.50" y="846.20" font-size="12.40" text-anchor="start" font-weight="normal" fill="#111" >Weighted log-rank test <tspan font-style="italic">P</tspan>-value: .8252</text>
<line x1="93.7" y1="956.4" x2="117.9" y2="956.4" stroke="#bb2849" stroke-width="1.15"/>
<line x1="93.7" y1="976.8" x2="117.9" y2="976.8" stroke="#bb2849" stroke-width="1.25" stroke-dasharray="4.4,3.8" stroke-dashoffset="2.1"/>
<line x1="280.0" y1="956.4" x2="303.7" y2="956.4" stroke="#2d5c88" stroke-width="1.15"/>
<line x1="280.0" y1="976.8" x2="303.7" y2="976.8" stroke="#244e76" stroke-width="1.25" stroke-dasharray="4.4,3.8" stroke-dashoffset="2.1"/>
<text x="123.70" y="961.00" font-size="12.80" text-anchor="start" font-weight="normal" fill="#111" >HGBL, non-weighted DOR</text>
<text x="123.70" y="981.20" font-size="12.80" text-anchor="start" font-weight="normal" fill="#111" >HGBL, weighted DOR</text>
<text x="309.40" y="961.00" font-size="12.80" text-anchor="start" font-weight="normal" fill="#111" >DLBCL, non-weighted DOR</text>
<text x="309.40" y="981.20" font-size="12.80" text-anchor="start" font-weight="normal" fill="#111" >DLBCL, weighted DOR</text>
<path d="M92.6,806.5 L98.8,807.3 L103.8,807.3 L106.5,807.3 L106.5,809.6 L108.8,809.6 L108.8,811.5 L110.3,811.5 L110.3,813.5 L112.6,813.5 L112.6,814.6 L114.2,814.6 L114.2,817.3 L115.3,817.3 L115.3,818.5 L116.1,823.0 L116.8,826.2 L117.6,830.8 L118.2,830.8 L118.2,833.1 L118.8,833.1 L118.8,835.4 L119.5,835.4 L119.5,837.7 L120.3,837.7 L120.3,840.0 L121.9,840.0 L121.9,843.0 L123.2,843.0 L123.2,845.3 L124.5,845.3 L124.5,847.7 L125.8,847.7 L125.8,850.0 L126.9,850.0 L126.9,852.7 L128.0,852.7 L128.0,855.4 L129.9,855.4 L129.9,858.1 L131.9,858.1 L131.9,860.8 L134.2,860.8 L134.2,862.1 L136.6,862.1 L136.6,863.5 L138.9,863.5 L138.9,864.9 L141.2,864.9 L141.2,866.2 L144.2,866.2 L144.2,867.0 L147.3,867.0 L147.3,867.7 L148.9,867.7 L148.9,870.0 L150.4,870.0 L150.4,872.3 L151.9,872.3 L151.9,875.4 L153.5,875.4 L153.5,878.5 L155.8,878.5 L155.8,880.4 L158.1,880.4 L158.1,882.3 L162.7,883.0 L165.1,883.0 L165.1,883.5 L167.6,883.5 L167.6,884.0 L170.0,884.0 L170.0,884.5 L172.3,884.5 L172.3,884.9 L174.6,884.9 L174.6,885.2 L176.9,885.2 L176.9,885.6 L179.2,885.6 L179.2,886.0 L181.6,886.0 L181.6,886.5 L184.0,886.5 L184.0,887.0 L186.4,887.0 L186.4,887.4 L188.8,887.4 L188.8,887.9 L191.2,887.9 L191.2,888.2 L193.7,888.2 L193.7,888.5 L196.1,888.5 L196.1,888.9 L198.5,888.9 L198.5,889.2 L210.0,889.8 L217.7,890.4 L220.1,890.4 L220.1,890.7 L222.5,890.7 L222.5,891.0 L224.9,891.0 L224.9,891.4 L227.3,891.4 L227.3,891.7 L229.7,891.7 L229.7,892.4 L232.2,892.4 L232.2,893.2 L234.6,893.2 L234.6,893.9 L237.0,893.9 L237.0,894.6 L239.5,894.6 L239.5,895.2 L242.1,895.2 L242.1,895.9 L244.6,895.9 L244.6,896.5 L247.3,896.5 L247.3,897.2 L250.0,897.2 L250.0,898.0 L252.8,898.0 L252.8,898.3 L255.5,898.3 L255.5,898.6 L258.3,898.6 L258.3,899.0 L261.0,899.0 L261.0,899.3 L263.8,899.3 L263.8,899.6 L266.6,899.6 L266.6,899.9 L269.4,899.9 L269.4,900.2 L272.1,900.2 L272.1,900.6 L274.9,900.6 L274.9,900.9 L277.7,900.9 L277.7,901.2 L280.0,901.2 L280.0,901.6 L282.3,901.6 L282.3,901.9 L284.6,901.9 L284.6,902.2 L286.9,902.2 L286.9,902.6 L289.8,902.6 L289.8,902.8 L292.7,902.8 L292.7,903.0 L295.6,903.0 L295.6,903.3 L298.5,903.3 L298.5,903.5 L300.8,903.5 L300.8,904.1 L303.1,904.1 L303.1,904.8 L305.4,904.8 L305.4,905.4 L307.7,905.4 L307.7,906.0 L310.0,906.0 L310.0,906.5 L342.3,907.2 L344.6,907.2 L344.6,907.8 L347.0,907.8 L347.0,908.3 L481.3,908.3" fill="none" stroke="#244e76" stroke-width="1.25" stroke-linejoin="round" stroke-dasharray="4.3,4.1"/>
<path d="M92.6,806.6 L93.4,806.6 L93.4,809.5 L94.2,809.5 L94.2,812.5 L97.5,812.5 L97.5,815.5 L102.6,816.0 L103.3,816.0 L103.3,818.0 L104.0,818.0 L104.0,820.0 L104.3,820.0 L104.3,822.7 L104.7,822.7 L104.7,825.3 L105.0,825.3 L105.0,828.0 L105.5,828.0 L105.5,831.0 L106.0,831.0 L106.0,834.0 L106.5,834.0 L106.5,837.0 L109.2,837.0 L109.2,837.8 L112.0,837.8 L112.0,838.5 L114.0,838.5 L114.0,839.2 L116.0,839.2 L116.0,840.0 L116.2,840.0 L116.2,842.4 L116.4,842.4 L116.4,844.9 L116.7,844.9 L116.7,847.3 L116.9,847.3 L116.9,849.7 L117.1,849.7 L117.1,852.2 L117.3,852.2 L117.3,854.6 L119.6,854.6 L119.6,855.0 L121.9,855.0 L121.9,855.5 L122.7,863.8 L125.4,863.8 L125.4,864.4 L128.1,864.4 L128.1,865.0 L130.8,865.0 L130.8,865.6 L133.5,865.6 L133.5,866.2 L141.2,866.9 L154.2,866.9 L154.5,866.9 L154.5,869.3 L154.7,869.3 L154.7,871.6 L155.0,871.6 L155.0,874.0 L156.6,874.0 L156.6,876.5 L158.1,876.5 L158.1,879.0 L170.8,879.5 L171.5,884.6 L174.3,884.6 L174.3,884.7 L177.0,884.7 L177.0,884.9 L179.8,884.9 L179.8,885.0 L182.5,885.0 L182.5,885.1 L185.3,885.1 L185.3,885.2 L188.0,885.2 L188.0,885.4 L190.8,885.4 L190.8,885.5 L191.8,885.5 L191.8,888.0 L192.7,888.0 L192.7,890.4 L195.6,890.4 L195.6,891.0 L198.5,891.0 L198.5,891.5 L198.9,891.5 L198.9,894.0 L199.4,894.0 L199.4,896.5 L201.8,896.5 L201.8,897.5 L204.2,897.5 L204.2,898.5 L213.8,898.5 L214.3,898.5 L214.3,900.6 L214.8,900.6 L214.8,902.8 L217.0,902.8" fill="none" stroke="#bb2849" stroke-width="1.25" stroke-linejoin="round" stroke-dasharray="4.3,4.1"/>
<path d="M92.6,806.5 L98.8,807.3 L103.8,807.3 L106.5,807.3 L106.5,809.6 L108.8,809.6 L108.8,811.5 L110.3,811.5 L110.3,813.5 L112.6,813.5 L112.6,814.6 L114.2,814.6 L114.2,817.3 L115.3,817.3 L115.3,818.5 L116.1,823.0 L116.8,826.2 L117.6,830.8 L118.2,830.8 L118.2,833.1 L118.8,833.1 L118.8,835.4 L119.5,835.4 L119.5,837.7 L120.3,837.7 L120.3,840.0 L121.9,840.0 L121.9,843.0 L123.2,843.0 L123.2,845.3 L124.5,845.3 L124.5,847.7 L125.8,847.7 L125.8,850.0 L127.3,850.0 L127.3,852.7 L128.8,852.7 L128.8,855.4 L131.9,855.4 L131.9,858.5 L135.0,858.5 L135.0,859.4 L138.1,859.4 L138.1,860.3 L140.4,860.3 L140.4,861.7 L142.7,861.7 L142.7,863.1 L145.0,863.1 L145.0,864.7 L147.3,864.7 L147.3,866.2 L150.4,866.2 L150.4,868.5 L153.5,868.5 L153.5,870.8 L156.5,870.8 L156.5,873.8 L158.1,873.8 L158.1,875.8 L159.6,875.8 L159.6,877.7 L173.5,877.7 L175.4,877.7 L175.4,879.2 L178.1,879.2 L178.1,879.5 L180.8,879.5 L180.8,879.8 L183.4,879.8 L183.4,880.2 L186.1,880.2 L186.1,880.5 L188.8,880.5 L188.8,880.8 L192.7,880.8 L192.7,883.1 L195.1,883.1 L195.1,883.6 L197.5,883.6 L197.5,884.0 L199.9,884.0 L199.9,884.5 L202.3,884.5 L202.3,885.0 L204.9,885.0 L204.9,885.2 L207.4,885.2 L207.4,885.5 L210.0,885.5 L210.0,885.8 L212.6,885.8 L212.6,886.0 L215.1,886.0 L215.1,886.2 L217.7,886.2 L217.7,886.5 L220.6,886.5 L220.6,887.6 L223.5,887.6 L223.5,888.8 L226.1,888.8 L226.1,889.5 L228.6,889.5 L228.6,890.1 L231.2,890.1 L231.2,890.8 L233.7,890.8 L233.7,891.4 L236.3,891.4 L236.3,892.1 L238.8,892.1 L238.8,892.7 L242.7,892.7 L242.7,894.6 L256.9,895.3 L280.0,895.7 L282.3,895.7 L282.3,896.1 L284.6,896.1 L284.6,896.5 L286.9,896.5 L286.9,896.9 L289.2,896.9 L289.2,897.3 L291.5,897.3 L291.5,898.5 L293.8,898.5 L293.8,899.6 L296.7,899.6 L296.7,901.4 L299.6,901.4 L299.6,903.1 L303.1,903.1 L303.1,905.4 L305.4,905.4 L305.4,906.0 L307.7,906.0 L307.7,906.6 L310.0,906.6 L310.0,907.2 L342.3,907.2 L343.5,907.2 L343.5,909.4 L390.5,909.5 L390.9,909.5 L390.9,911.6 L391.3,911.6 L391.3,913.8 L481.3,913.8" fill="none" stroke="#2d5c88" stroke-width="1.25" stroke-linejoin="round" />
<path d="M92.6,806.6 L93.0,811.2 L102.6,811.5 L102.6,818.0 L104.2,818.0 L104.2,820.0 L105.0,827.7 L106.1,827.7 L106.1,830.8 L106.5,836.2 L115.0,836.2 L115.5,836.2 L115.5,839.0 L116.0,839.0 L116.0,841.8 L116.5,841.8 L116.5,844.6 L117.3,854.6 L121.9,854.6 L122.7,863.8 L154.2,863.8 L154.4,863.8 L154.4,866.3 L154.6,866.3 L154.6,868.8 L154.8,868.8 L154.8,871.3 L155.0,871.3 L155.0,873.8 L156.6,873.8 L156.6,876.1 L158.1,876.1 L158.1,878.5 L170.8,878.8 L171.5,884.6 L190.8,884.6 L191.8,884.6 L191.8,887.5 L192.7,887.5 L192.7,890.4 L198.5,890.8 L198.9,890.8 L198.9,893.6 L199.4,893.6 L199.4,896.5 L201.8,896.5 L201.8,896.7 L204.2,896.7 L204.2,896.8 L206.6,896.8 L206.6,897.0 L209.0,897.0 L209.0,897.2 L211.4,897.2 L211.4,897.3 L213.8,897.3 L213.8,897.5 L214.3,897.5 L214.3,900.1 L214.8,900.1 L214.8,902.8 L481.3,902.8" fill="none" stroke="#bb2849" stroke-width="1.25" stroke-linejoin="round" />
<line x1="40.6" y1="1069.6" x2="64.6" y2="1069.6" stroke="#bb2849" stroke-width="1.15"/>
<line x1="36.2" y1="1094.0" x2="60.4" y2="1094.0" stroke="#2d5c88" stroke-width="1.15"/>
<text transform="translate(92.30,1075.00) scale(1.110,1)" font-size="14.60" text-anchor="middle" font-weight="normal" fill="#111" >43 (0)</text>
<text transform="translate(166.32,1075.00) scale(1.110,1)" font-size="14.60" text-anchor="middle" font-weight="normal" fill="#111" >21 (6)</text>
<text transform="translate(240.34,1075.00) scale(1.110,1)" font-size="14.60" text-anchor="middle" font-weight="normal" fill="#111" >13 (10)</text>
<text transform="translate(314.36,1075.00) scale(1.110,1)" font-size="14.60" text-anchor="middle" font-weight="normal" fill="#111" >8 (15)</text>
<text transform="translate(388.38,1075.00) scale(1.110,1)" font-size="14.60" text-anchor="middle" font-weight="normal" fill="#111" >3 (20)</text>
<text transform="translate(462.40,1075.00) scale(1.110,1)" font-size="14.60" text-anchor="middle" font-weight="normal" fill="#111" >2 (21)</text>
<text transform="translate(92.30,1098.50) scale(1.110,1)" font-size="14.60" text-anchor="middle" font-weight="normal" fill="#111" >202 (1)</text>
<text transform="translate(166.32,1098.50) scale(1.110,1)" font-size="14.60" text-anchor="middle" font-weight="normal" fill="#111" >99 (28)</text>
<text transform="translate(240.34,1098.50) scale(1.110,1)" font-size="14.60" text-anchor="middle" font-weight="normal" fill="#111" >60 (55)</text>
<text transform="translate(314.36,1098.50) scale(1.110,1)" font-size="14.60" text-anchor="middle" font-weight="normal" fill="#111" >40 (66)</text>
<text transform="translate(388.38,1098.50) scale(1.110,1)" font-size="14.60" text-anchor="middle" font-weight="normal" fill="#111" >20 (85)</text>
<text transform="translate(462.40,1098.50) scale(1.110,1)" font-size="14.60" text-anchor="middle" font-weight="normal" fill="#111" >13 (91)</text>
</svg>
</body></html>
